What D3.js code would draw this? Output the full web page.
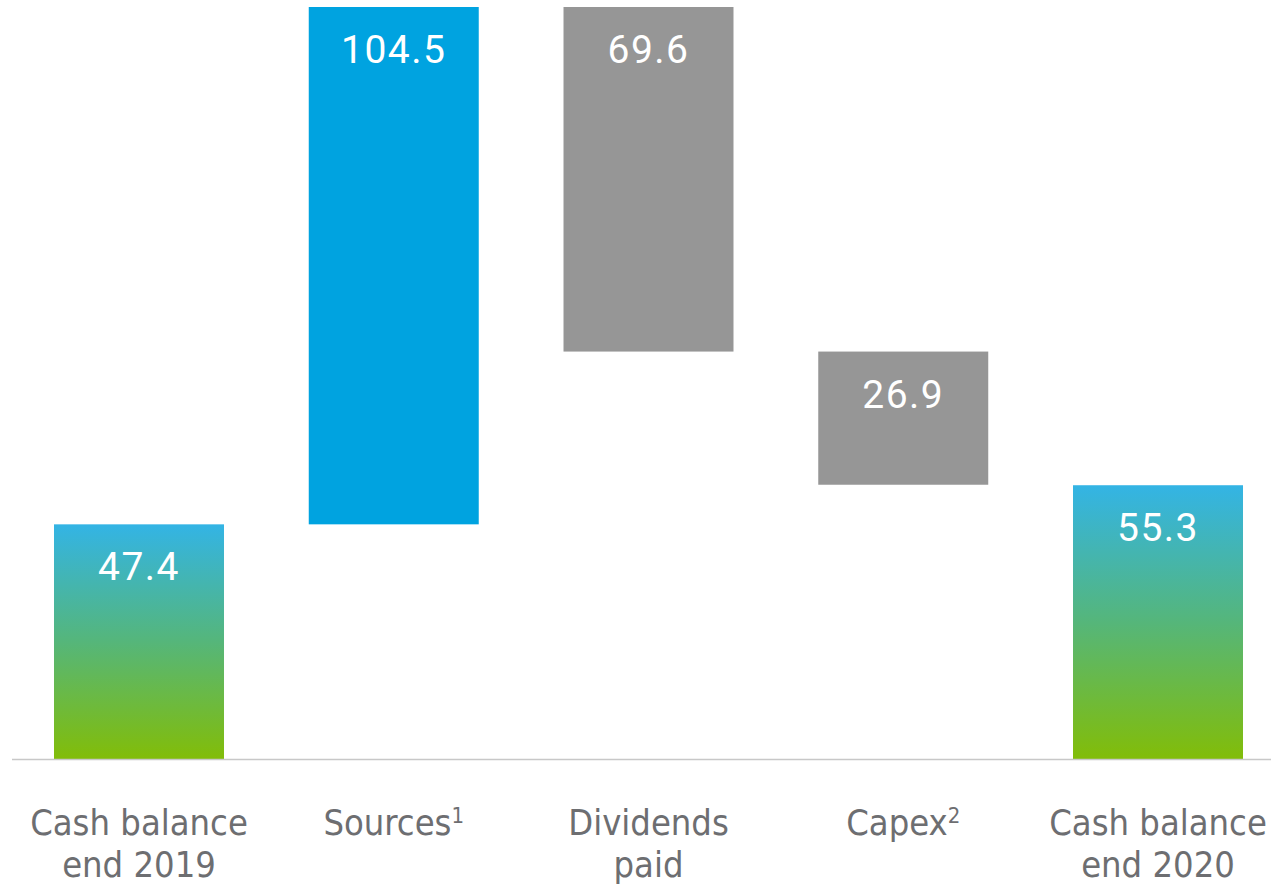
<!DOCTYPE html>
<html>
<head>
<meta charset="utf-8">
<script src="https://cdn.jsdelivr.net/npm/d3@7"></script>
<style>
  html, body { margin: 0; padding: 0; background: #fff; }
  svg { display: block; }
</style>
</head>
<body>
<svg id="chart" width="1271" height="890"></svg>
<script>
// Cash flow bridge, EUR values
const categories = ["Cash balance|end 2019", "Sources|", "Dividends|paid", "Capex|", "Cash balance|end 2020"];
const footnotes = ["", "1", "", "2", ""];
const values = [47.4, 104.5, -69.6, -26.9, 55.3];
const kinds = ["total", "increase", "decrease", "decrease", "total"];
const valueLabels = ["47.4", "104.5", "69.6", "26.9", "55.3"];

const svg = d3.select("#chart");
const W = 1271, H = 890;
const margin = { left: 12, right: 0, top: 7, bottom: 131 };
const baseY = H - margin.bottom;

// build waterfall segments
let running = 0;
const data = categories.map((c, i) => {
  let y0, y1;
  if (kinds[i] === "total") { y0 = 0; y1 = values[i]; running = values[i]; }
  else { y0 = running; y1 = running + values[i]; running = y1; }
  return { cat: c, note: footnotes[i], kind: kinds[i], lo: Math.min(y0, y1), hi: Math.max(y0, y1), label: valueLabels[i] };
});

const x = d3.scaleBand()
  .domain(categories)
  .range([54, 1243])
  .paddingInner(0.3327)
  .paddingOuter(0);

const y = d3.scaleLinear()
  .domain([0, 151.9])
  .range([baseY, margin.top]);

// vertical gradient for the balance bars
const defs = svg.append("defs");
const grad = defs.append("linearGradient")
  .attr("id", "balanceGrad")
  .attr("x1", 0).attr("y1", 0).attr("x2", 0).attr("y2", 1);
grad.append("stop").attr("offset", "0%").attr("stop-color", "#33b4e5");
grad.append("stop").attr("offset", "50%").attr("stop-color", "#55b67a");
grad.append("stop").attr("offset", "100%").attr("stop-color", "#82bd08");

const fillFor = d => d.kind === "total" ? "url(#balanceGrad)" : (d.kind === "increase" ? "#00a3e0" : "#969696");

svg.append("g").selectAll("rect")
  .data(data)
  .join("rect")
  .attr("x", d => x(d.cat))
  .attr("width", x.bandwidth())
  .attr("y", d => y(d.hi))
  .attr("height", d => y(d.lo) - y(d.hi))
  .attr("fill", fillFor);

// baseline
svg.append("line")
  .attr("x1", margin.left).attr("x2", W)
  .attr("y1", baseY + 0.5).attr("y2", baseY + 0.5)
  .attr("stroke", "#c8c8c8").attr("stroke-width", 1.5);

// value labels inside bars
svg.append("g").selectAll("text")
  .data(data)
  .join("text")
  .attr("x", d => x(d.cat) + x.bandwidth() / 2)
  .attr("y", d => y(d.hi) + 56)
  .attr("text-anchor", "middle")
  .attr("fill", "#ffffff")
  .style("font-family", "Roboto, 'Open Sans', sans-serif")
  .style("font-size", "39px")
  .style("letter-spacing", "1.5px")
  .text(d => d.label);

// category labels
const catG = svg.append("g").selectAll("g")
  .data(data)
  .join("g")
  .attr("transform", d => `translate(${x(d.cat) + x.bandwidth() / 2},0)`);

catG.each(function(d) {
  const lines = d.cat.split("|");
  const t = d3.select(this).append("text")
    .attr("text-anchor", "middle")
    .attr("fill", "#6d6e71")
    .style("font-family", "'DejaVu Sans Condensed', 'DejaVu Sans', sans-serif")
    .style("font-size", "36px");
  t.append("tspan").attr("x", 0).attr("y", 835).text(lines[0]);
  if (d.note) {
    t.append("tspan").attr("dy", -12).style("font-size", "22px").text(d.note);
  }
  if (lines[1]) {
    t.append("tspan").attr("x", 0).attr("y", 877).text(lines[1]);
  }
});
</script>
</body>
</html>
